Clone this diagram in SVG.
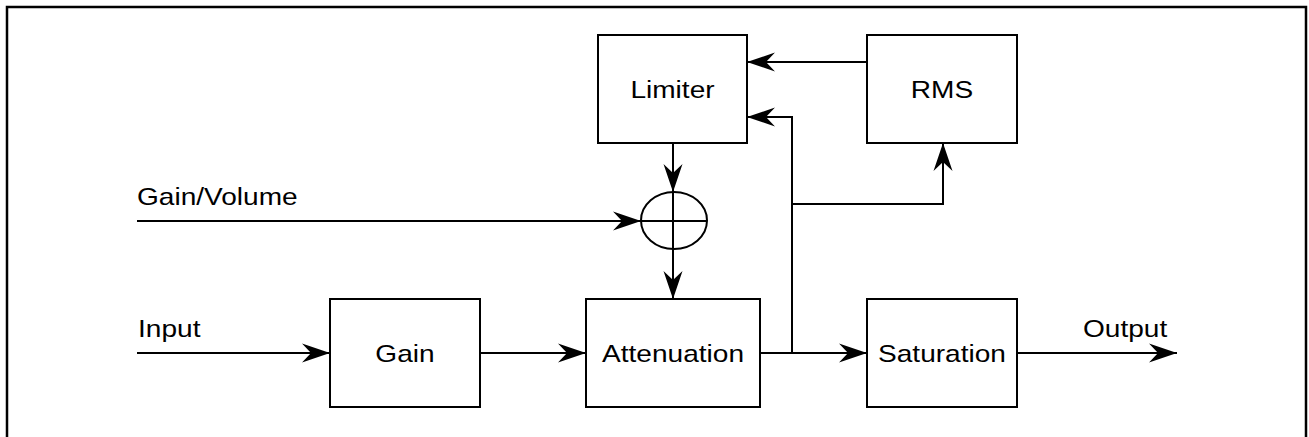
<svg xmlns="http://www.w3.org/2000/svg" width="1309" height="437" viewBox="0 0 1309 437">
<style>
.box{fill:#fff;stroke:#000;stroke-width:2}
.ln{fill:none;stroke:#000;stroke-width:2}
.t{font-family:"Liberation Sans",Arial,sans-serif;font-size:24px;fill:#000}
.c{text-anchor:middle}
</style>
<defs>
<marker id="ah" markerUnits="userSpaceOnUse" viewBox="-29 -10 30 20" refX="0" refY="0" markerWidth="30" markerHeight="20" orient="auto">
<path d="M0,0 L-28,-9.5 L-19,0 L-28,9.5 Z" fill="#000"/>
</marker>
</defs>
<rect width="1309" height="437" fill="#fff"/>
<path d="M7,437 V7 H1306 V437" fill="none" stroke="#000" stroke-width="2.5"/>
<g id="connectors">
<line class="ln" x1="137" y1="221" x2="641" y2="221" marker-end="url(#ah)"/>
<line class="ln" x1="137" y1="353" x2="330" y2="353" marker-end="url(#ah)"/>
<line class="ln" x1="480" y1="353" x2="586" y2="353" marker-end="url(#ah)"/>
<line class="ln" x1="760" y1="353" x2="867" y2="353" marker-end="url(#ah)"/>
<line class="ln" x1="1017" y1="353" x2="1177" y2="353" marker-end="url(#ah)"/>
<line class="ln" x1="673" y1="143" x2="673" y2="192" marker-end="url(#ah)"/>
<line class="ln" x1="673" y1="249" x2="673" y2="299" marker-end="url(#ah)"/>
<line class="ln" x1="867" y1="62" x2="747" y2="62" marker-end="url(#ah)"/>
<polyline class="ln" points="792,353 792,117 747,117" marker-end="url(#ah)"/>
<polyline class="ln" points="792,204 943,204 943,143" marker-end="url(#ah)"/>
</g>
<g id="limiter">
<rect class="box" x="598" y="35" width="149" height="108"/>
<text class="t c" transform="translate(672.5,98) scale(1.17,1)">Limiter</text>
</g>
<g id="rms">
<rect class="box" x="867" y="35" width="150" height="108"/>
<text class="t c" transform="translate(942,98) scale(1.17,1)">RMS</text>
</g>
<g id="sum">
<ellipse cx="674" cy="220.5" rx="33" ry="28.5" fill="none" stroke="#000" stroke-width="2"/>
<line class="ln" x1="641" y1="221" x2="707" y2="221"/>
<line class="ln" x1="673" y1="192" x2="673" y2="249"/>
</g>
<g id="gain">
<rect class="box" x="330" y="299" width="150" height="108"/>
<text class="t c" transform="translate(405,362) scale(1.17,1)">Gain</text>
</g>
<g id="attenuation">
<rect class="box" x="586" y="299" width="174" height="108"/>
<text class="t c" transform="translate(673,362) scale(1.17,1)">Attenuation</text>
</g>
<g id="saturation">
<rect class="box" x="867" y="299" width="150" height="108"/>
<text class="t c" transform="translate(942,362) scale(1.17,1)">Saturation</text>
</g>
<g id="labels">
<text class="t" transform="translate(137,205) scale(1.17,1)">Gain/Volume</text>
<text class="t" transform="translate(138,337) scale(1.17,1)">Input</text>
<text class="t" transform="translate(1083,337) scale(1.17,1)">Output</text>
</g>
</svg>
